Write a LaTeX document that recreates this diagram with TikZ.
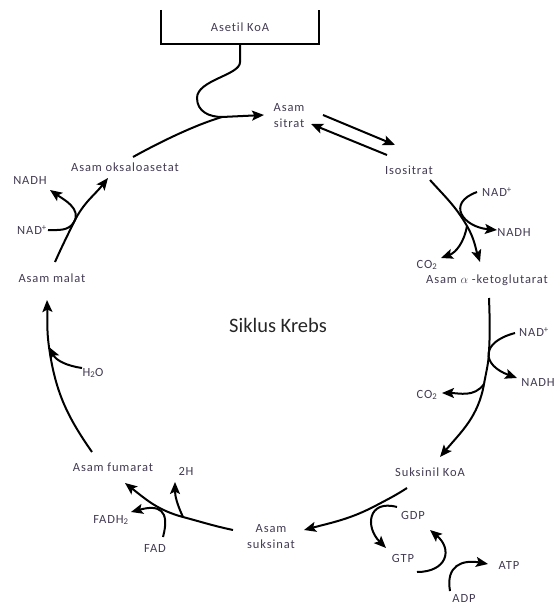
\documentclass[tikz,border=0pt]{standalone}
\usepackage{fontspec}
\setmainfont{Carlito}
\newfontfamily\krebsfont[LetterSpace=7,Ligatures={NoCommon,NoRequired,NoContextual}]{Carlito}
\usetikzlibrary{arrows.meta}
\definecolor{krebstext}{RGB}{66,58,82}
\tikzset{
    >=Stealth,
    krebs_label/.style={
        text=krebstext,
        font=\krebsfont\fontsize{12.5}{16}\selectfont,
        inner sep=0pt,
        align=center
    },
    krebs_title/.style={
        text=black!85,
        font=\fontsize{20.5}{24}\selectfont,
        inner sep=0pt
    },
    krebs_box/.style={
        krebs_label,
        minimum width=158pt,
        minimum height=34pt
    },
    krebs_line/.style={
        line width=2pt
    },
    krebs_arrow/.style={
        -{Stealth[length=12pt,width=10pt,inset=2.5pt]},
        line width=2pt
    }
}

\begin{document}
\begin{tikzpicture}[x=1pt, y=1pt]
\useasboundingbox (0,0) rectangle (557,-607);

% --- Main compounds ---
\node[krebs_box] (asetil) at (240,-27) {Asetil KoA};
\node[krebs_label] (sitrat) at (289,-116) {Asam\\sitrat};
\node[krebs_label] (isositrat) at (409,-170) {Isositrat};
\node[krebs_label] (ketoglutarat) at (487,-280) {Asam $\alpha$ -ketoglutarat};
\node[krebs_label] (suksinilkoa) at (430,-472) {Suksinil KoA};
\node[krebs_label] (suksinat) at (271,-537) {Asam\\suksinat};
\node[krebs_label] (fumarat) at (113,-467) {Asam fumarat};
\node[krebs_label] (malat) at (52,-278) {Asam malat};
\node[krebs_label] (oksaloasetat) at (125,-167) {Asam oksaloasetat};
\node[krebs_title] (siklus) at (278,-325) {Siklus Krebs};

% --- Side products ---
\node[krebs_label] (nadIso) at (497,-192) {NAD\textsuperscript{+}};
\node[krebs_label] (nadhIso) at (514,-232) {NADH};
\node[krebs_label] (co2Iso) at (427,-265) {CO\textsubscript{2}};
\node[krebs_label] (nadKeto) at (534,-332) {NAD\textsuperscript{+}};
\node[krebs_label] (nadhKeto) at (538,-382) {NADH};
\node[krebs_label] (co2Keto) at (427,-395) {CO\textsubscript{2}};
\node[krebs_label] (gdp) at (413,-515) {GDP};
\node[krebs_label] (gtp) at (403,-558) {GTP};
\node[krebs_label] (atp) at (509,-565) {ATP};
\node[krebs_label] (adp) at (464,-598) {ADP};
\node[krebs_label] (twoH) at (186,-471) {2H};
\node[krebs_label] (fadh) at (111,-520) {FADH\textsubscript{2}};
\node[krebs_label] (fad) at (155,-548) {FAD};
\node[krebs_label] (water) at (93,-373) {H\textsubscript{2}O};
\node[krebs_label] (nadMal) at (32,-230) {NAD\textsuperscript{+}};
\node[krebs_label] (nadhMal) at (30,-180) {NADH};

% --- Junctions on the cycle ---
\coordinate (jSitrat) at (222,-117);
\coordinate (jIso) at (467,-226);
\coordinate (jKetoA) at (489,-352);
\coordinate (jKetoB) at (484,-384);
\coordinate (jSuks) at (377,-505);
\coordinate (jFum) at (183,-517);
\coordinate (jMal) at (49,-347);
\coordinate (jOks) at (74,-222);

% --- Asetil KoA ---
\draw[krebs_line] (asetil.north west) |- (asetil.south east) -- (asetil.north east);
\draw[krebs_arrow] (asetil.south) -- ++(0,-18) .. controls +(0,-13) and (197,-80) .. (197,-98)
    .. controls (197,-112) and (210,-117) .. (jSitrat) -- ([shift={(-25,1)}]sitrat.center);
\draw[krebs_line] ([shift={(8,10)}]oksaloasetat.center) .. controls (160,-142) and (195,-125) .. (jSitrat);

% --- Sitrat <-> Isositrat ---
\draw[krebs_arrow] ([shift={(34,1)}]sitrat.center) -- ([shift={(-14,25)}]isositrat.center);
\draw[krebs_arrow] ([shift={(-22,15)}]isositrat.center) -- ([shift={(22,-8)}]sitrat.center);

% --- Isositrat -> ketoglutarat ---
\draw[krebs_arrow] ([shift={(21,-10)}]isositrat.center) to[out=-48,in=120] (jIso)
    to[out=-60,in=108] ([shift={(-7,18)}]ketoglutarat.center);
\draw[krebs_arrow] ([shift={(-20,0)}]nadIso.center) to[out=200,in=175,looseness=2] ([shift={(-17,2)}]nadhIso.center);
\draw[krebs_arrow] (jIso) to[out=-100,in=20] ([shift={(14,7)}]co2Iso.center);

% --- ketoglutarat -> Suksinil KoA ---
\draw[krebs_arrow] ([shift={(2,-18)}]ketoglutarat.center) to[out=-88,in=87] (jKetoA)
    to[out=-93,in=80] (jKetoB) to[out=-100,in=50] ([shift={(10,15)}]suksinilkoa.center);
\draw[krebs_arrow] ([shift={(-19,-1)}]nadKeto.center) to[out=195,in=160,looseness=2.1] ([shift={(-21,4)}]nadhKeto.center);
\draw[krebs_arrow] (jKetoB) to[out=-125,in=0] ([shift={(15,2)}]co2Keto.center);

% --- Suksinil KoA -> suksinat ---
\draw[krebs_arrow] ([shift={(-23,-16)}]suksinilkoa.center) to[out=213,in=28] (jSuks)
    to[out=208,in=15] ([shift={(33,7)}]suksinat.center);
\draw[krebs_arrow] ([shift={(-16,8)}]gdp.center) to[out=165,in=135,out distance=30,in distance=30] ([shift={(-17,10)}]gtp.center);
\draw[krebs_arrow] ([shift={(14,-14)}]gtp.center) to[out=0,in=-40,distance=30] ([shift={(17,-15)}]gdp.center);
\draw[krebs_arrow] ([shift={(-14,7)}]adp.center) to[out=100,in=170,distance=26] ([shift={(-21,1)}]atp.center);

% --- suksinat -> fumarat ---
\draw[krebs_arrow] ([shift={(-38,7)}]suksinat.center) to[out=168,in=-15] (jFum)
    to[out=165,in=-38] ([shift={(12,-16)}]fumarat.center);
\draw[krebs_arrow] (jFum) to[out=115,in=-90] ([shift={(-11,-11)}]twoH.center);
\draw[krebs_arrow] ([shift={(8,11)}]fad.center) to[out=75,in=15,looseness=1.8] ([shift={(20,8)}]fadh.center);

% --- fumarat -> malat ---
\draw[krebs_arrow] ([shift={(-21,15)}]fumarat.center) to[out=125,in=-82] (jMal)
    to[out=98,in=-88] ([shift={(-5,-22)}]malat.center);
\draw[krebs_arrow] ([shift={(-11,5)}]water.center) to[out=172,in=-62] (jMal);

% --- malat -> oksaloasetat ---
\draw[krebs_arrow] ([shift={(3,16)}]malat.center) to[out=66,in=-116] (jOks)
    to[out=64,in=-128] ([shift={(-17,-11)}]oksaloasetat.center);
\draw[krebs_arrow] ([shift={(16,0)}]nadMal.center) to[out=0,in=-120] (jOks)
    to[out=60,in=-35] ([shift={(20,-10)}]nadhMal.center);

\end{tikzpicture}
\end{document}
